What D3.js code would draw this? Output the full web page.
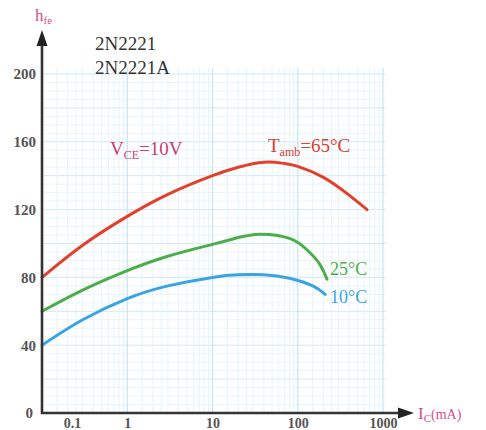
<!DOCTYPE html>
<html>
<head>
<meta charset="utf-8">
<script src="https://cdn.jsdelivr.net/npm/d3@7"></script>
<style>
  html, body { margin: 0; padding: 0; background: #fff; }
  svg { display: block; }
</style>
</head>
<body>
<svg id="chart" width="486" height="430"></svg>
<script>
// ---- data ----
const xTicks = [0.1, 1, 10, 100, 1000];
const xTickLabels = ["0.1", "1", "10", "100", "1000"];
const yTicks = [0, 40, 80, 120, 160, 200];

const icRed   = [0.1, 0.3, 1, 3, 10, 20, 40, 70, 100, 200, 400, 650];
const hfeRed  = [80, 99, 116, 129, 140, 145, 148, 147.2, 145.5, 139, 128.5, 120];

const icGreen  = [0.1, 0.3, 1, 3, 10, 20, 36, 80, 130, 180, 220];
const hfeGreen = [60, 72.5, 84, 92.5, 99.5, 103.5, 105.5, 103, 96, 88, 79];

const icBlue  = [0.1, 0.3, 1, 3, 10, 20, 40, 80, 150, 210];
const hfeBlue = [40, 55, 67.5, 75, 80, 81.5, 81.5, 79.5, 75, 70];

const seriesNames = ["65°C", "25°C", "10°C"];

// ---- layout ----
const svg = d3.select("#chart");
const x = d3.scaleLog().domain([0.1, 1000]).range([42, 383]);
const y = d3.scaleLinear().domain([0, 200]).range([413, 74]);

// ---- grid (graph paper) ----
const grid = svg.append("g");
const gx0 = 44, gx1 = 386, gy0 = 413, gy1 = 68;
for (let v = 5; v <= 202; v += 5) {
  grid.append("line")
    .attr("x1", gx0).attr("x2", gx1)
    .attr("y1", y(v)).attr("y2", y(v))
    .attr("stroke", v % 20 === 0 ? "#cfe8f6" : "#e8f5fc")
    .attr("stroke-width", 1);
}
const xGridVals = [];
[0.1, 1, 10, 100].forEach(d => {
  for (let k = 1; k <= 9; k++) xGridVals.push(d * k);
  [1.5, 2.5].forEach(k => xGridVals.push(d * k));
});
xGridVals.push(1000);
xGridVals.forEach(v => {
  const px = x(v);
  if (px < gx0 || px > gx1) return;
  const major = Math.abs(Math.log10(v) - Math.round(Math.log10(v))) < 1e-9;
  grid.append("line")
    .attr("x1", px).attr("x2", px)
    .attr("y1", gy0).attr("y2", gy1)
    .attr("stroke", major ? "#c9e5f5" : "#e5f3fb")
    .attr("stroke-width", major ? 1.3 : 1);
});

// ---- curves ----
const line = d3.line().x(d => x(d[0])).y(d => y(d[1])).curve(d3.curveNatural);
const series = [
  { ic: icRed, h: hfeRed, color: "#e2402c" },
  { ic: icGreen, h: hfeGreen, color: "#4bae4a" },
  { ic: icBlue, h: hfeBlue, color: "#3aa3e3" }
];
series.forEach(s => {
  svg.append("path")
    .datum(s.ic.map((v, i) => [v, s.h[i]]))
    .attr("fill", "none")
    .attr("stroke", s.color)
    .attr("stroke-width", 3)
    .attr("stroke-linecap", "round")
    .attr("d", line);
});

// ---- axes ----
const axisColor = "#333";
svg.append("line").attr("x1", 42).attr("x2", 42).attr("y1", 414).attr("y2", 44)
  .attr("stroke", axisColor).attr("stroke-width", 2.6);
svg.append("path").attr("d", "M42,30 L36.5,46 L47.5,46 Z").attr("fill", "#222");
svg.append("line").attr("x1", 41).attr("x2", 400).attr("y1", 413).attr("y2", 413)
  .attr("stroke", axisColor).attr("stroke-width", 2.6);
svg.append("path").attr("d", "M414,413 L398,407.5 L398,418.5 Z").attr("fill", "#222");

const serif = "Liberation Serif, serif";
const yAxis = svg.append("g").attr("transform", "translate(42,0)")
  .call(d3.axisLeft(y).tickValues(yTicks).tickSize(0).tickPadding(6));
yAxis.select(".domain").remove();
yAxis.selectAll("text")
  .attr("font-family", serif)
  .attr("font-size", 15).attr("font-weight", "bold").attr("fill", "#555");
yAxis.selectAll(".tick").filter(d => d === 0).select("text").attr("dx", -3);

const xAxis = svg.append("g").attr("transform", "translate(0,413)")
  .call(d3.axisBottom(x).tickValues(xTicks).tickFormat((d, i) => xTickLabels[i]).tickSize(0).tickPadding(5));
xAxis.select(".domain").remove();
xAxis.selectAll("text")
  .attr("font-family", serif)
  .attr("font-size", 14).attr("font-weight", "bold").attr("fill", "#555");
xAxis.selectAll(".tick").filter(d => d === 0.1).select("text").attr("dx", 30);

// ---- axis titles ----
const pink = "#d4508a";
const hfe = svg.append("text").attr("x", 35).attr("y", 21)
  .attr("font-family", serif).attr("font-size", 17).attr("fill", pink);
hfe.append("tspan").text("h");
hfe.append("tspan").attr("font-size", 11).attr("dy", 3).text("fe");

const icLabel = svg.append("text").attr("x", 418).attr("y", 419)
  .attr("font-family", serif).attr("font-size", 17).attr("fill", pink);
icLabel.append("tspan").text("I");
icLabel.append("tspan").attr("font-size", 11).attr("dy", 3).text("C");
icLabel.append("tspan").attr("dy", -3).attr("font-size", 14).text("(mA)");

// ---- annotations ----
svg.append("text").attr("x", 95).attr("y", 50).attr("font-family", serif)
  .attr("font-size", 19).attr("fill", "#333").text("2N2221");
svg.append("text").attr("x", 95).attr("y", 74).attr("font-family", serif)
  .attr("font-size", 19).attr("fill", "#333").text("2N2221A");

const vce = svg.append("text").attr("x", 110).attr("y", 155).attr("font-family", serif)
  .attr("font-size", 19).attr("fill", "#cc3d72");
vce.append("tspan").text("V");
vce.append("tspan").attr("font-size", 12).attr("dy", 4).text("CE");
vce.append("tspan").attr("dy", -4).text("=10V");

const tamb = svg.append("text").attr("x", 268).attr("y", 152).attr("font-family", serif)
  .attr("font-size", 19).attr("fill", "#d9402e");
tamb.append("tspan").text("T");
tamb.append("tspan").attr("font-size", 12).attr("dy", 4).text("amb");
tamb.append("tspan").attr("dy", -4).text("=" + seriesNames[0]);

svg.append("text").attr("x", 330).attr("y", 275).attr("font-family", serif)
  .attr("font-size", 18).attr("fill", "#4bae4a").text(seriesNames[1]);
svg.append("text").attr("x", 330).attr("y", 303).attr("font-family", serif)
  .attr("font-size", 18).attr("fill", "#3aa3e3").text(seriesNames[2]);
</script>
</body>
</html>
